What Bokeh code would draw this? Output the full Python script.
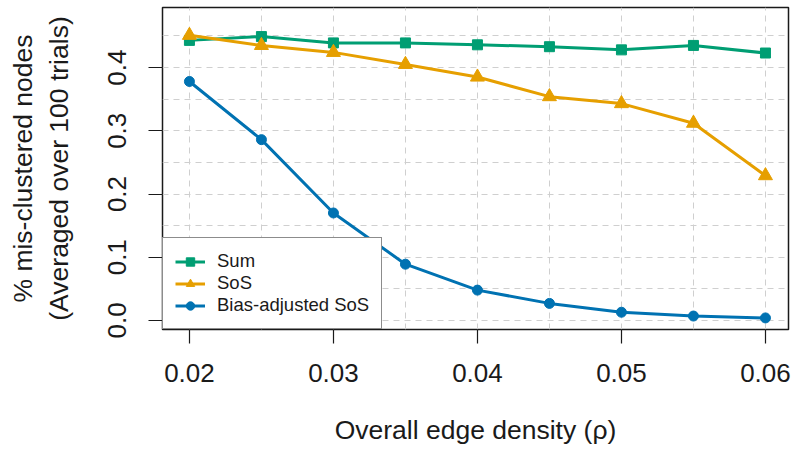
from bokeh.plotting import figure
from bokeh.models import FixedTicker, Legend, LegendItem, Range1d
from bokeh.embed import file_html
from bokeh.resources import INLINE

# Overall edge density and mean fraction of mis-clustered nodes per method
density = [0.02, 0.025, 0.03, 0.035, 0.04, 0.045, 0.05, 0.055, 0.06]
sum_err = [0.443, 0.449, 0.439, 0.439, 0.436, 0.433, 0.428, 0.435, 0.423]
sos_err = [0.451, 0.435, 0.424, 0.405, 0.385, 0.354, 0.343, 0.312, 0.229]
bias_err = [0.378, 0.286, 0.170, 0.089, 0.048, 0.027, 0.013, 0.007, 0.004]

x_ticks = [0.02, 0.03, 0.04, 0.05, 0.06]
x_tick_labels = ["0.02", "0.03", "0.04", "0.05", "0.06"]
y_ticks = [0.0, 0.1, 0.2, 0.3, 0.4]
y_tick_labels = ["0.0", "0.1", "0.2", "0.3", "0.4"]
y_grid = [0.0, 0.05, 0.1, 0.15, 0.2, 0.25, 0.3, 0.35, 0.4, 0.45]

FONT = "Liberation Sans"
GREEN, ORANGE, BLUE = "#009E73", "#E69F00", "#0072B2"

p = figure(
    width=794, height=449,
    output_backend="svg", toolbar_location=None,
    x_range=Range1d(0.01813, 0.0616), y_range=Range1d(-0.0143, 0.495),
    min_border_left=162, min_border_right=6, min_border_top=7, min_border_bottom=120,
    x_axis_label="Overall edge density (\u03c1)",
    y_axis_label="% mis-clustered nodes\n(Averaged over 100 trials)",
)
p.background_fill_color = "white"
p.border_fill_color = "white"
p.outline_line_color = "#1a1a1a"
p.outline_line_width = 1.5

# dashed reference grid
p.xgrid.ticker = FixedTicker(ticks=density)
p.ygrid.ticker = FixedTicker(ticks=y_grid)
for g in (p.xgrid, p.ygrid):
    g.grid_line_color = "#cfcfcf"
    g.grid_line_dash = "6 5"
    g.grid_line_width = 1

# axes
p.xaxis.ticker = FixedTicker(ticks=x_ticks)
p.yaxis.ticker = FixedTicker(ticks=y_ticks)
p.xaxis.major_label_overrides = dict(zip(x_ticks, x_tick_labels))
p.yaxis.major_label_overrides = dict(zip(y_ticks, y_tick_labels))
p.yaxis.major_label_orientation = "vertical"
for ax in (p.xaxis, p.yaxis):
    ax.axis_line_color = None
    ax.major_tick_in = 0
    ax.major_tick_out = 14
    ax.major_tick_line_color = "#1a1a1a"
    ax.major_tick_line_width = 1.2
    ax.minor_tick_line_color = None
    ax.major_label_text_font = FONT
    ax.major_label_text_font_size = "26px"
    ax.major_label_text_color = "#1a1a1a"
    ax.axis_label_text_font = FONT
    ax.axis_label_text_font_size = "26.5px"
    ax.axis_label_text_font_style = "normal"
    ax.axis_label_text_color = "#1a1a1a"
p.xaxis.major_label_standoff = 20
p.xaxis.axis_label_standoff = 30
p.yaxis.major_label_standoff = 22
p.yaxis.axis_label_standoff = 32

# series
l1 = p.line(density, sum_err, line_color=GREEN, line_width=3)
m1 = p.scatter(density, sum_err, marker="square", size=10, color=GREEN)
l2 = p.line(density, sos_err, line_color=ORANGE, line_width=3)
m2 = p.scatter(density, sos_err, marker="triangle", size=14, color=ORANGE)
l3 = p.line(density, bias_err, line_color=BLUE, line_width=3)
m3 = p.scatter(density, bias_err, marker="circle", size=10, color=BLUE)

legend = Legend(
    items=[
        LegendItem(label="Sum", renderers=[l1, m1]),
        LegendItem(label="SoS", renderers=[l2, m2]),
        LegendItem(label="Bias-adjusted SoS", renderers=[l3, m3]),
    ],
    location="bottom_left",
    margin=0, padding=12, spacing=0,
    label_height=21, glyph_height=21, glyph_width=30, label_standoff=12,
    label_text_font=FONT, label_text_font_size="18.5px", label_text_color="#1a1a1a",
    border_line_color="#1a1a1a", border_line_width=1.5,
    background_fill_color="white", background_fill_alpha=1.0,
)
p.add_layout(legend, "center")

open("out.html", "w").write(file_html(p, INLINE))
